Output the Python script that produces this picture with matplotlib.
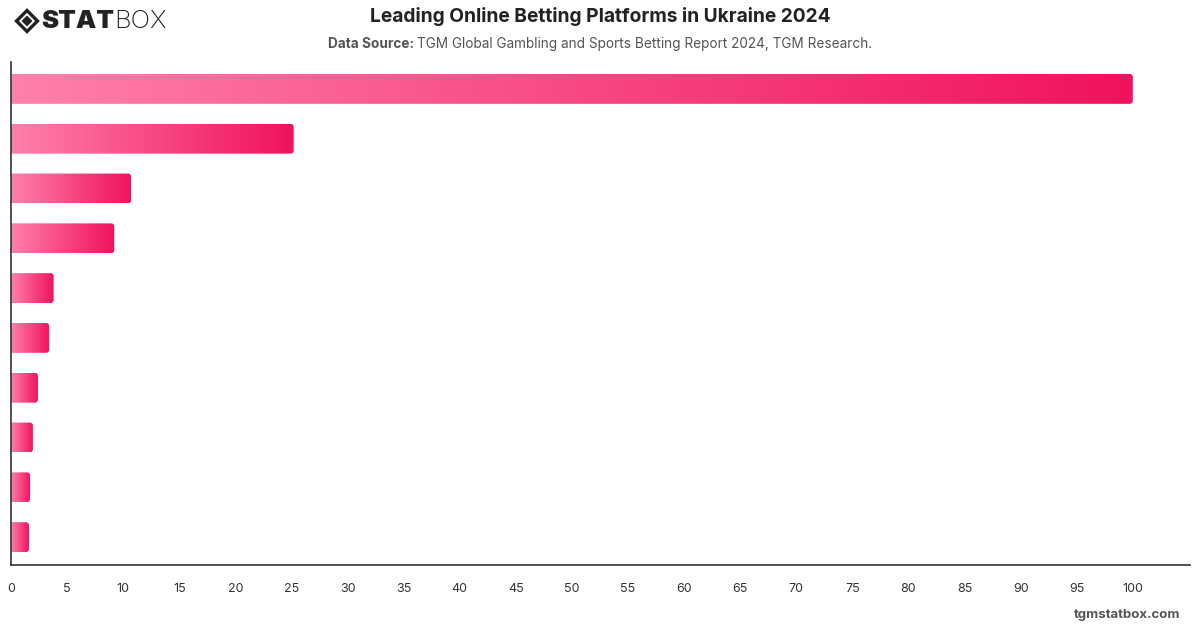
import numpy as np
import matplotlib.pyplot as plt
from matplotlib.patches import FancyBboxPatch, Polygon
from matplotlib.colors import LinearSegmentedColormap

# chart data (platform names are not printed on the reference chart)
platforms = ["Platform 1", "Platform 2", "Platform 3", "Platform 4", "Platform 5",
             "Platform 6", "Platform 7", "Platform 8", "Platform 9", "Platform 10"]
scores = [100, 25.2, 10.7, 9.2, 3.8, 3.4, 2.4, 1.95, 1.7, 1.6]
x_ticks = list(range(0, 101, 5))

title = "Leading Online Betting Platforms in Ukraine 2024"
source = "TGM Global Gambling and Sports Betting Report 2024, TGM Research."

plt.rcParams['font.family'] = ['Inter', 'DejaVu Sans']

fig = plt.figure(figsize=(12, 6.28), dpi=100)
ax = fig.add_axes([11 / 1200, 1 - 565 / 628, (1190 - 11) / 1200, (565 - 62) / 628])

cmap = LinearSegmentedColormap.from_list("pinks", ["#ff80ab", "#f0125e"])
grad = np.linspace(0, 1, 256).reshape(1, -1)

bar_h = 0.6
for i, v in enumerate(scores):
    box = FancyBboxPatch((-1, i - bar_h / 2), v + 1, bar_h,
                         boxstyle="round,pad=0,rounding_size=0.27",
                         mutation_aspect=0.225, facecolor="none",
                         edgecolor="none", transform=ax.transData)
    ax.add_patch(box)
    im = ax.imshow(grad, cmap=cmap, aspect="auto", interpolation="bilinear",
                   extent=(0, v, i + bar_h / 2, i - bar_h / 2), zorder=2)
    im.set_clip_path(box)

ax.set_xlim(0, 105.1)
ax.set_ylim(len(scores) - 0.44, -0.54)
ax.set_xticks(x_ticks)
ax.set_xticklabels([str(t) for t in x_ticks], fontsize=9, color="#333333")
ax.set_yticks([])
ax.tick_params(axis="x", length=0, pad=13)
for side in ["top", "right"]:
    ax.spines[side].set_visible(False)
for side in ["left", "bottom"]:
    ax.spines[side].set_color("#333333")
    ax.spines[side].set_linewidth(1.2)

# titles
fig.text(0.5, 1 - 17 / 628, title, ha="center", va="center",
         fontsize=13.8, fontweight="bold", color="#222222")
t1 = fig.text(0.5, 1 - 44 / 628, "Data Source: ", ha="right", va="center",
              fontsize=9.8, fontweight="bold", color="#555555")
t2 = fig.text(0.5, 1 - 44 / 628, source, ha="left", va="center",
              fontsize=9.8, color="#555555")
# re-center the two-part subtitle
fig.canvas.draw()
r = fig.canvas.get_renderer()
w1 = t1.get_window_extent(r).width
w2 = t2.get_window_extent(r).width
shift = (w1 - w2) / 2 / 1200
t1.set_x(0.5 + shift)
t2.set_x(0.5 + shift)

fig.text(1 - 20 / 1200, 1 - 615 / 628, "tgmstatbox.com", ha="right", va="center",
         fontsize=9.5, fontweight="bold", color="#555555")

# logo
cx, cy, s = 27 / 1200, 1 - 21 / 628, 10.5
outer = Polygon([(cx - s / 1200, cy), (cx, cy + s / 628), (cx + s / 1200, cy), (cx, cy - s / 628)],
                closed=True, facecolor="none", edgecolor="#222222", linewidth=2.4,
                transform=fig.transFigure)
s2 = 5.5
inner = Polygon([(cx - s2 / 1200, cy), (cx, cy + s2 / 628), (cx + s2 / 1200, cy), (cx, cy - s2 / 628)],
                closed=True, facecolor="#222222", edgecolor="none",
                transform=fig.transFigure)
fig.add_artist(outer)
fig.add_artist(inner)
ts = fig.text(41 / 1200, 1 - 21 / 628, "STAT", ha="left", va="center",
              fontsize=18.5, fontweight="black", color="#222222")
fig.canvas.draw()
ext = ts.get_window_extent(fig.canvas.get_renderer())
fig.text(ext.x1 / 1200, 1 - 21 / 628, "BOX", ha="left", va="center",
         fontsize=18.5, fontweight="light", color="#222222")

fig.savefig("out.png", dpi=100)
